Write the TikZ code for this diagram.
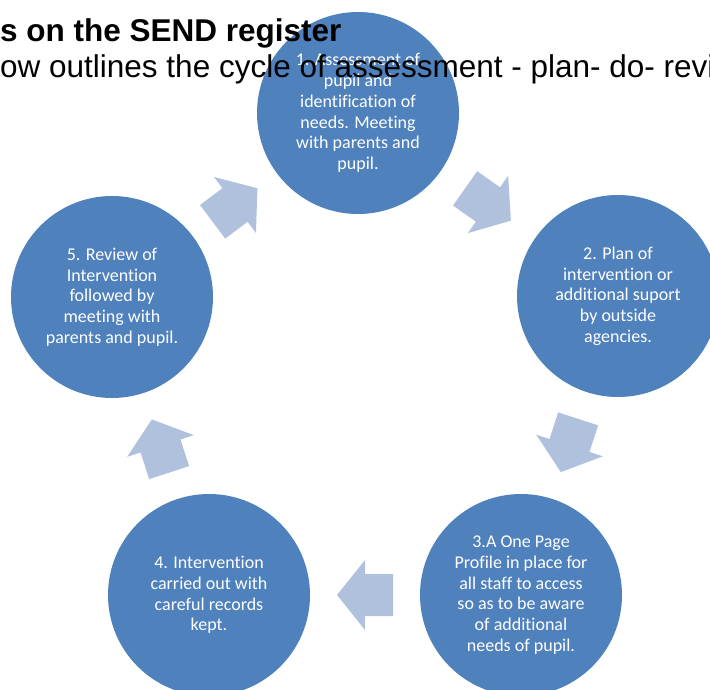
\documentclass[tikz,border=0pt]{standalone}
\usepackage{fontspec}
\setmainfont{Carlito}[Ligatures=NoCommon]
\newfontfamily\headfont{Liberation Sans}
\usetikzlibrary{calc}

\definecolor{stageblue}{HTML}{4F81BD}
\definecolor{arrowblue}{HTML}{B0C1DE}

\def\cyclearrow#1#2{%
    \coordinate (m) at ($(#1)!0.5!(#2)$);
    \coordinate (k) at ($(m)!-28pt!(#2)$);
    \fill[arrowblue] ($(m)!28pt!(#2)$) -- ($(m)!35pt!90:(#2)$) -- ($(m)!21pt!90:(#2)$)
        -- ($(k)!21pt!90:(#2)$) -- ($(k)!21pt!-90:(#2)$) -- ($(m)!21pt!-90:(#2)$)
        -- ($(m)!35pt!-90:(#2)$) -- cycle;
}

\begin{document}
\begin{tikzpicture}[x=1pt, y=-1pt,
    stage/.style={circle, fill=stageblue, minimum size=202pt, inner sep=0pt,
        text=white, align=center, font=\fontsize{18}{20.7}\selectfont},
    heading/.style={anchor=base west, inner sep=0pt,
        font=\headfont\fontsize{31.5}{36}\selectfont}]
    \clip (0,0) rectangle (710,690);
    % the five stages
    \node[stage] (assess) at (358,113) {1. Assessment of\\pupil and\\identification of\\needs. Meeting\\with parents and\\pupil.};
    \node[stage] (plan) at (618,296) {2. Plan of\\intervention or\\additional suport\\by outside\\agencies.};
    \node[stage] (profile) at (521,595) {3.A One Page\\Profile in place for\\all staff to access\\so as to be aware\\of additional\\needs of pupil.};
    \node[stage] (intervene) at (209,595) {4. Intervention\\carried out with\\careful records\\kept.};
    \node[stage] (review) at (112,297) {5. Review of\\Intervention\\followed by\\meeting with\\parents and pupil.};
    % arrows round the cycle
    \cyclearrow{assess}{plan}
    \cyclearrow{plan}{profile}
    \cyclearrow{profile}{intervene}
    \cyclearrow{intervene}{review}
    \cyclearrow{review}{assess}
    % heading lines
    \node[heading] (title) at (0,42) {\bfseries s on the SEND register};
    \node[heading] (intro) at (0,78) {ow outlines the cycle of assessment - plan- do- revi};
\end{tikzpicture}
\end{document}
